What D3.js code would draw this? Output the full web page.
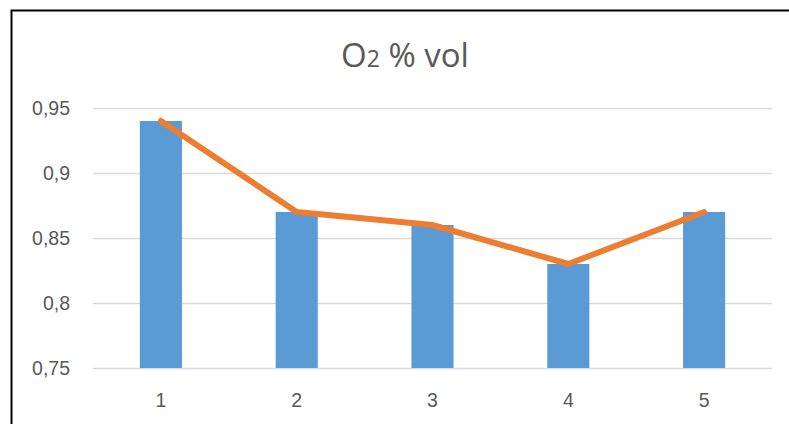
<!DOCTYPE html>
<html><head><meta charset="utf-8">
<script src="https://cdn.jsdelivr.net/npm/d3@7"></script>
<style>body{margin:0;background:#fff;}svg{display:block;font-family:"Open Sans","Noto Sans",sans-serif;}</style>
</head><body>
<svg id="c" width="789" height="424"></svg>
<script>
const categories = ["1","2","3","4","5"];
const barValues = [0.94, 0.87, 0.86, 0.83, 0.87];
const lineValues = [0.94, 0.87, 0.86, 0.83, 0.87];
const yTicks = [0.75, 0.8, 0.85, 0.9, 0.95];
const yTickLabels = ["0,75","0,8","0,85","0,9","0,95"];

(function(){
const svg = d3.select("#c");
svg.append("path").attr("d","M11.5,424 L11.5,10.5 L789,10.5").attr("fill","none").attr("stroke","#000").attr("stroke-width",2);

const pl = 93, pr = 772, pt = 108, pb = 368;
const x = d3.scaleBand().domain(categories).range([pl,pr]).paddingInner(0.69).paddingOuter(0.345);
const y = d3.scaleLinear().domain([0.75,0.95]).range([pb,pt]);

svg.append("g").selectAll("line").data(yTicks).join("line")
  .attr("x1",pl).attr("x2",pr).attr("y1",d=>Math.round(y(d))+0.5).attr("y2",d=>Math.round(y(d))+0.5)
  .attr("stroke","#d9d9d9").attr("stroke-width",1.5);

const yAxis = d3.axisLeft(y).tickValues(yTicks).tickFormat((d,i)=>yTickLabels[i]).tickSize(0).tickPadding(0);
const gy = svg.append("g").attr("transform",`translate(70,0)`).call(yAxis);
gy.select(".domain").remove();
gy.selectAll("text").attr("fill","#595959").style("font-size","19.5px").attr("dy","0.35em");

svg.append("g").selectAll("rect").data(barValues).join("rect")
  .attr("x",(d,i)=>x(categories[i])).attr("width",x.bandwidth())
  .attr("y",d=>y(d)).attr("height",d=>pb-y(d)).attr("fill","#5B9BD5");

const xAxis = d3.axisBottom(x).tickSize(0).tickPadding(0);
const gx = svg.append("g").attr("transform",`translate(0,${pb})`).call(xAxis);
gx.select(".domain").remove();
gx.selectAll("text").attr("fill","#595959").style("font-size","19.5px").attr("y",39).attr("dy","0");

const line = d3.line().x((d,i)=>x(categories[i])+x.bandwidth()/2).y(d=>y(d));
svg.append("path").datum(lineValues).attr("d",line).attr("fill","none")
  .attr("stroke","#ED7D31").attr("stroke-width",6).attr("stroke-linecap","round").attr("stroke-linejoin","round");

const t = svg.append("text").attr("x",405).attr("y",67).attr("text-anchor","middle").attr("fill","#595959").style("font-size","33px");
t.append("tspan").text("O");
t.append("tspan").style("font-size","23px").text("2");
t.append("tspan").text(" % vol");
})();
</script>
</body></html>
